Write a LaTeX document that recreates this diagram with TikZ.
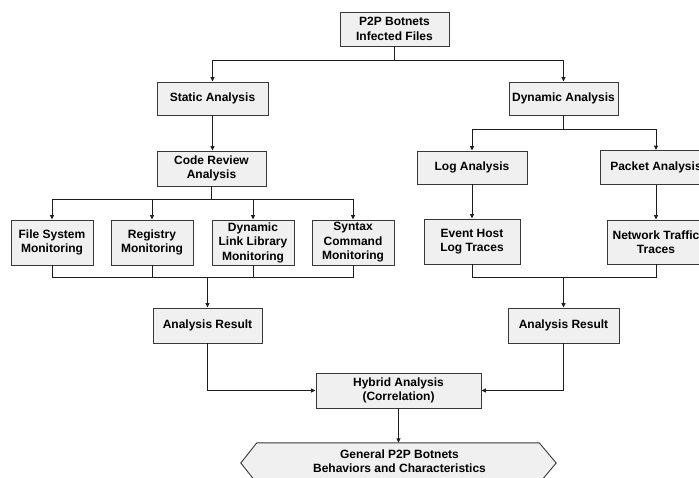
\documentclass[tikz,border=0pt]{standalone}
\usepackage{fontspec}
\setmainfont{Liberation Sans}
\usetikzlibrary{arrows.meta}
\definecolor{boxfill}{HTML}{F0F0F0}
\definecolor{boxline}{HTML}{383838}
\definecolor{wire}{HTML}{1E1E1E}
\tikzset{
  box/.style={draw=boxline, fill=boxfill, line width=0.9pt, inner sep=0pt,
    align=center, font=\fontsize{12}{14.5}\selectfont\bfseries},
  wirestyle/.style={draw=wire, line width=0.9pt},
  arr/.style={wirestyle, -{Triangle[length=4.5pt,width=4pt]}},
}
\begin{document}
\begin{tikzpicture}[x=1pt, y=-1pt]
\useasboundingbox (0,0) rectangle (699,477);

% boxes
\node[box, minimum width=109pt, minimum height=34pt] (top) at (394.5,29) {P2P Botnets\\Infected Files};
\node[box, minimum width=111pt, minimum height=33pt] (static) at (212.5,98.5) {Static Analysis};
\node[box, minimum width=109pt, minimum height=33pt] (dynamic) at (563.5,98.5) {Dynamic Analysis};
\node[box, minimum width=109pt, minimum height=35pt] (code) at (211.5,168.5) {Code Review\\Analysis};
\node[box, minimum width=82pt, minimum height=45pt] (fs) at (52,242.5) {File System\\Monitoring};
\node[box, minimum width=82pt, minimum height=45pt] (reg) at (152,242.5) {Registry\\Monitoring};
\node[box, minimum width=82pt, minimum height=45pt] (dll) at (253,242.5) {Dynamic\\Link Library\\Monitoring};
\node[box, minimum width=82pt, minimum height=45pt] (syn) at (353,242.5) {Syntax\\Command\\Monitoring};
\node[box, minimum width=109pt, minimum height=35pt] (arL) at (207.5,325.5) {Analysis Result};
\node[box, minimum width=110pt, minimum height=33pt] (log) at (472,167.5) {Log Analysis};
\node[box, minimum width=112pt, minimum height=34pt] (pkt) at (656,167.5) {Packet Analysis};
\node[box, minimum width=96pt, minimum height=45pt] (evt) at (472,241.5) {Event Host\\Log Traces};
\node[box, minimum width=98pt, minimum height=44pt] (net) at (656,242) {Network Traffic\\Traces};
\node[box, minimum width=111pt, minimum height=35pt] (arR) at (563.5,325.5) {Analysis Result};
\node[box, minimum width=165pt, minimum height=35pt] (hyb) at (398.5,390.5) {Hybrid Analysis\\(Correlation)};

% hexagonal result shape
\node[minimum width=315pt, minimum height=40pt, inner sep=0pt] (hex) at (398.5,463) {};
\draw[draw=boxline, fill=boxfill, line width=0.9pt]
  (hex.west) -- ([xshift=16pt]hex.north west) -- ([xshift=-17pt]hex.north east)
  -- (hex.east) -- ([xshift=-17pt]hex.south east) -- ([xshift=16pt]hex.south west) -- cycle;
\node[align=center, font=\fontsize{12}{14.5}\selectfont\bfseries, inner sep=0pt]
  (hextext) at (399.5,461) {General P2P Botnets\\Behaviors and Characteristics};

% junction points
\coordinate (j1) at (394.5,60);
\coordinate (j2) at (212,199);
\coordinate (j3) at (207.5,277);
\coordinate (j4) at (563.5,129);
\coordinate (j5) at (563.5,277);

% connectors
\draw[wirestyle] (top.south) -- (j1);
\draw[arr] (j1) -| (static.north);
\draw[arr] (j1) -| (dynamic.north);
\draw[arr] (static.south) -- (static.south |- code.north);

\draw[wirestyle] (code.south) -- (code.south |- j2);
\draw[arr] (j2) -| (fs.north);
\draw[arr] (j2) -| (reg.north);
\draw[arr] (j2) -| (dll.north);
\draw[arr] (j2) -| (syn.north);

\draw[wirestyle] (fs.south) |- (j3);
\draw[wirestyle] (syn.south) |- (j3);
\draw[wirestyle] (reg.south) -- (reg.south |- j3);
\draw[wirestyle] (dll.south) -- (dll.south |- j3);
\draw[arr] (j3) -- (arL.north);

\draw[wirestyle] (dynamic.south) -- (j4);
\draw[arr] (j4) -| (log.north);
\draw[arr] (j4) -| (pkt.north);
\draw[arr] (log.south) -- (evt.north);
\draw[arr] (pkt.south) -- (net.north);

\draw[wirestyle] (evt.south) |- (j5);
\draw[wirestyle] (net.south) |- (j5);
\draw[arr] (j5) -- (arR.north);

\draw[arr] (arL.south) |- (hyb.west);
\draw[arr] (arR.south) |- (hyb.east);
\draw[arr] (hyb.south) -- (hex.north);
\end{tikzpicture}
\end{document}
